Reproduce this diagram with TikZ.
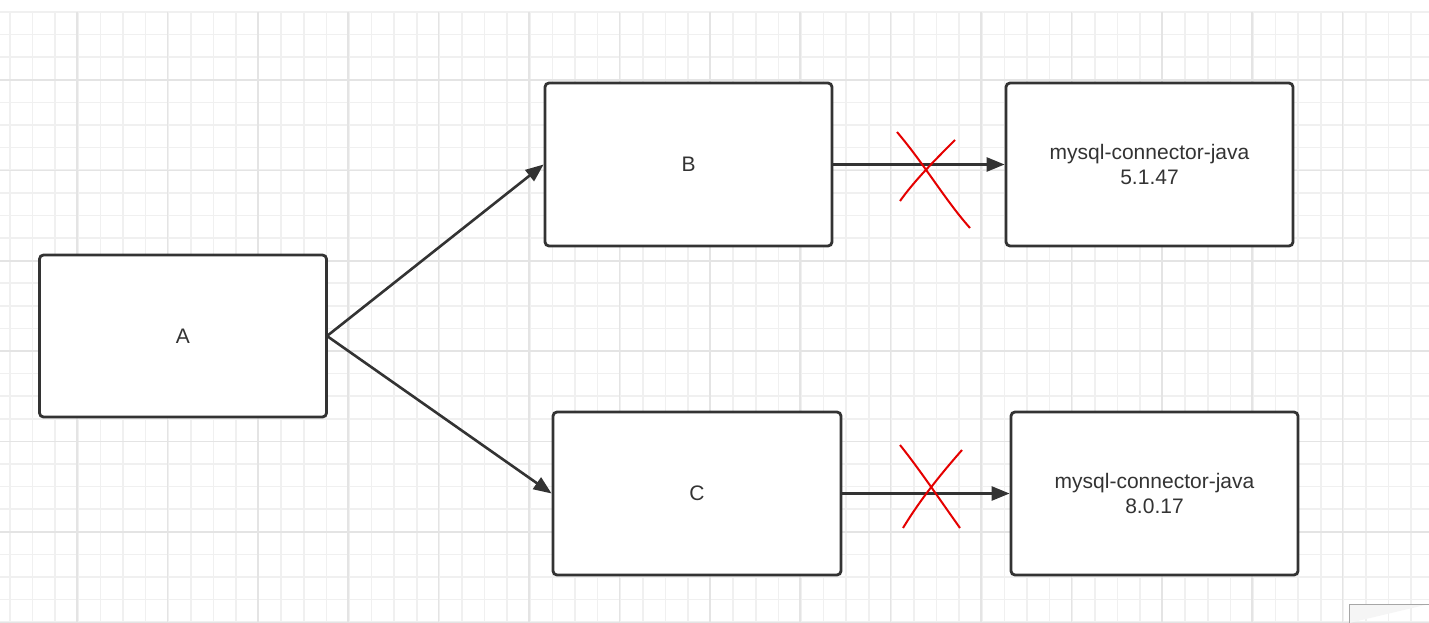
\documentclass[tikz,border=0pt]{standalone}
\usepackage{fontspec}
\setmainfont{Liberation Sans}
\usetikzlibrary{arrows.meta}
\definecolor{ln}{HTML}{333333}
\definecolor{gmin}{HTML}{F0F0F0}
\definecolor{gmaj}{HTML}{E4E4E4}
\tikzset{
  box/.style={draw=ln,line width=2.8pt,rounded corners=4pt,fill=white,font=\fontsize{21}{25}\selectfont,text=ln,align=center},
  conn/.style={draw=ln,line width=2.6pt,-{Triangle[length=18pt,width=14pt]}},
  cross/.style={draw=red!90!black,line width=2pt}
}
\begin{document}
\begin{tikzpicture}[x=1pt,y=-1pt]
\useasboundingbox (0,0) rectangle (1429,623);
\fill[white] (0,0) rectangle (1429,623);
\foreach \i in {0,...,62}{
  \pgfmathsetmacro\xx{10+22.6*\i}
  \draw[gmin,line width=1.5pt] (\xx,12) -- (\xx,623);
}
\foreach \i in {0,...,27}{
  \pgfmathsetmacro\yy{12+22.6*\i}
  \draw[gmin,line width=1.5pt] (0,\yy) -- (1429,\yy);
}
\foreach \i in {0,...,15}{
  \pgfmathsetmacro\xx{77+90.4*\i}
  \draw[gmaj,line width=1.6pt] (\xx,12) -- (\xx,623);
}
\foreach \i in {0,...,6}{
  \pgfmathsetmacro\yy{80+90.4*\i}
  \draw[gmaj,line width=1.6pt] (0,\yy) -- (1429,\yy);
}
\node[box,minimum width=287pt,minimum height=162pt] (A) at (183,336) {A};
\node[box,minimum width=287pt,minimum height=163pt] (B) at (688.5,164.5) {B};
\node[box,minimum width=288pt,minimum height=163pt] (C) at (697,493.5) {C};
\node[box,minimum width=287pt,minimum height=163pt] (D1) at (1149.5,164.5) {mysql-connector-java\\5.1.47};
\node[box,minimum width=287pt,minimum height=163pt] (D2) at (1154.5,493.5) {mysql-connector-java\\8.0.17};
\coordinate (Ae) at (327,336);
\draw[conn] (Ae) -- (B.west);
\draw[conn] (Ae) -- (C.west);
\draw[conn] (B.east) -- (D1.west);
\draw[conn] (C.east) -- (D2.west);
\draw[cross] (897,132) .. controls (925,165) and (945,200) .. (970,228);
\draw[cross] (955,140) .. controls (935,160) and (915,180) .. (900,201);
\draw[cross] (900,445) .. controls (920,470) and (940,500) .. (960,528);
\draw[cross] (962,450) .. controls (940,475) and (920,500) .. (903,528);
\draw[draw=gray!70,fill=gray!8,line width=1pt] (1349,623) -- (1349,604) -- (1429,604);
\end{tikzpicture}
\end{document}
